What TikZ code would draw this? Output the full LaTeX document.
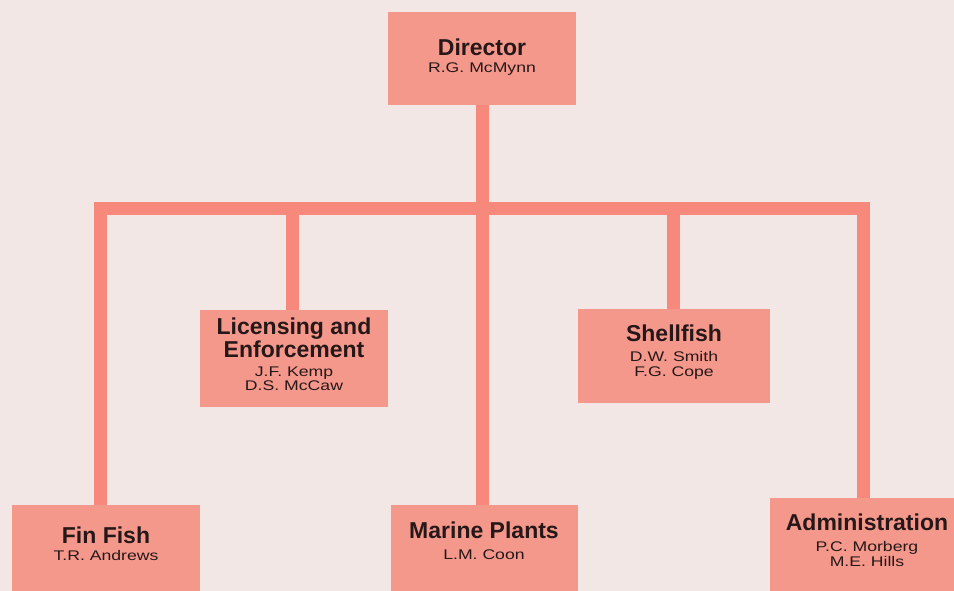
\documentclass[tikz,border=0pt]{standalone}
\usepackage{fontspec}
\setmainfont{Liberation Sans}
\newfontfamily\namefamily[FakeStretch=1.26]{Liberation Sans}
\newcommand{\titlefont}{\rmfamily\bfseries\fontsize{23pt}{0pt}\selectfont}
\newcommand{\namefont}{\namefamily\fontsize{14pt}{0pt}\selectfont}
\definecolor{paperColor}{RGB}{243, 231, 230}
\definecolor{unitColor}{RGB}{245, 152, 140}
\definecolor{linkColor}{RGB}{247, 136, 124}
\definecolor{inkColor}{RGB}{38, 24, 24}
\usetikzlibrary{positioning}
\tikzstyle{unit} = [rectangle, anchor=north, inner sep=0pt, fill=unitColor]
\tikzstyle{unittext} = [align=center, inner sep=0pt, text=inkColor, font={\namefont\lineskiplimit=-100pt}]
\tikzstyle{link} = [draw=linkColor, line width=13pt, line join=miter, line cap=butt]

\begin{document}
\begin{tikzpicture}[x=1pt, y=-1pt]
				\useasboundingbox (0,0) rectangle (954,591);
				\clip (0,0) rectangle (954,591);
				\fill[paperColor] (0,0) rectangle (954,591);

				\node (director) [unit, minimum width=188pt, minimum height=93pt] at (482,12) {};
				\node (licensing) [unit, minimum width=188pt, minimum height=97pt] at (294,310) {};
				\node (shellfish) [unit, minimum width=192pt, minimum height=94pt] at (674,309) {};
				\node (finfish) [unit, minimum width=188pt, minimum height=100pt] at (106,505) {};
				\node (marine) [unit, minimum width=187pt, minimum height=100pt] at (484,505) {};
				\node (admin) [unit, minimum width=194pt, minimum height=110pt] at (867,498) {};

				\node (directortext) [unittext, below=27pt of director.north] {{\titlefont Director}\\[17pt]R.G. McMynn};
				\node (licensingtext) [unittext, below=8pt of licensing.north] {{\titlefont Licensing and}\\[23pt]{\titlefont Enforcement}\\[19pt]J.F. Kemp\\[13.5pt]D.S. McCaw};
				\node (shellfishtext) [unittext, below=16pt of shellfish.north] {{\titlefont Shellfish}\\[20pt]D.W. Smith\\[15pt]F.G. Cope};
				\node (finfishtext) [unittext, below=22pt of finfish.north] {{\titlefont Fin Fish}\\[17pt]T.R. Andrews};
				\node (marinetext) [unittext, below=17pt of marine.north] {{\titlefont Marine Plants}\\[21pt]L.M. Coon};
				\node (admintext) [unittext, below=16pt of admin.north] {{\titlefont Administration}\\[21pt]P.C. Morberg\\[15pt]M.E. Hills};

				\coordinate (bar) at (482,209);
				\draw[link] (director.south) -- (director.south |- marine.north);
				\draw[link] ([xshift=-6pt]finfish.north) |- (bar) -| ([xshift=-4pt]admin.north);
				\draw[link] ([xshift=-2pt]licensing.north) -- ([xshift=-2pt]licensing.north |- bar);
				\draw[link] ([xshift=-1pt]shellfish.north) -- ([xshift=-1pt]shellfish.north |- bar);
			\end{tikzpicture}
\end{document}
